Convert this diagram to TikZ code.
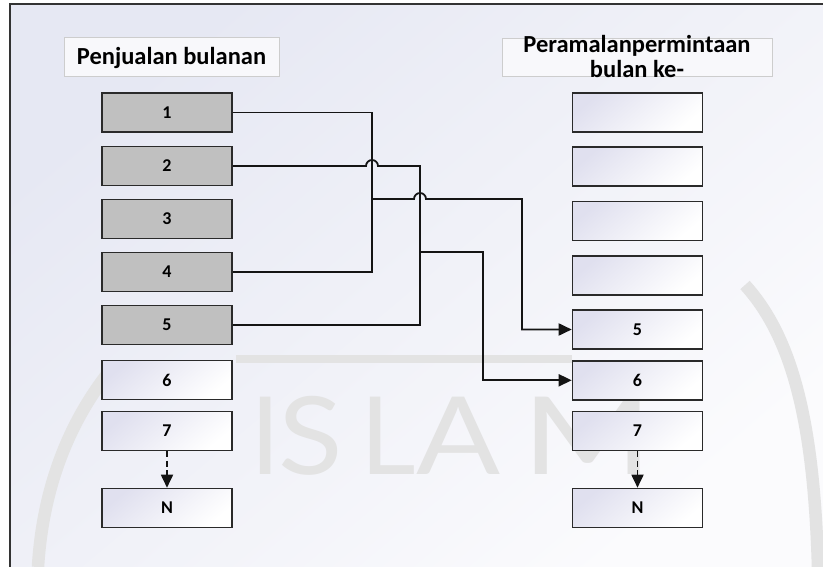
\documentclass[tikz,border=0pt]{standalone}
\usepackage{fontspec}
\usepackage{graphicx}
\setmainfont{Carlito}
\newfontfamily\wmfont{Lato}
\usetikzlibrary{arrows.meta,calc}

\definecolor{bgA}{HTML}{E6E8F3}
\definecolor{bgB}{HTML}{FBFBFD}
\definecolor{framec}{HTML}{333333}
\definecolor{boxline}{HTML}{2A2A2A}
\definecolor{grayfill}{HTML}{C0C0C0}
\definecolor{boxA}{HTML}{E0E0EF}
\definecolor{hdrline}{HTML}{CDCDCD}
\definecolor{hdrfill}{HTML}{F8F8FB}
\definecolor{linec}{HTML}{141414}
\definecolor{wmc}{HTML}{E3E3E3}

\tikzset{
  cellbase/.style={draw=boxline, line width=1.6pt, minimum width=130pt,
    minimum height=39pt, inner sep=0pt,
    font=\bfseries\fontsize{18}{20}\selectfont, text=black},
  cellgray/.style={cellbase, fill=grayfill},
  cellwhite/.style={cellbase, top color=boxA, bottom color=white, shading angle=40},
  hdrbox/.style={draw=hdrline, line width=1pt, fill=hdrfill, inner sep=0pt},
  hdrtext/.style={font=\bfseries\fontsize{24.5}{25}\selectfont, align=center, inner sep=0pt},
  conn/.style={line width=1.8pt, draw=linec, line join=miter},
  tip/.style={-{Triangle[length=13pt,width=12pt]}},
  dashconn/.style={conn, dash pattern=on 6pt off 3.5pt},
  wmletter/.style={text=wmc, font=\wmfont\fontsize{108}{110}\selectfont, inner sep=0pt, anchor=base},
  wmring/.style={draw=wmc, line width=12.5pt},
}

\begin{document}
\begin{tikzpicture}[x=1pt, y=-1pt]
\useasboundingbox (0,0) rectangle (823,567);
\fill[white] (0,0) rectangle (823,567);

% page background with soft diagonal gradient
\shade[top color=bgA, bottom color=bgB, shading angle=40] (9.5,4.5) rectangle (823,567);

% faint watermark
\draw[wmring] (112,368) .. controls (62,430) and (42,500) .. (38,567);
\draw[wmring] (745,285) .. controls (795,340) and (814,430) .. (818,567);
\draw[draw=wmc, line width=8pt] (236,359) -- (572,359);
\node[wmletter] (wmI) at (266,474) {I};
\node[wmletter] (wmS) at (311,474) {\scalebox{1.1}[1]{S}};
\node[wmletter] (wmL) at (388,474) {L};
\node[wmletter] (wmA) at (459,474) {\scalebox{1.15}[1]{A}};
\node[wmletter] (wmM) at (588,474) {\scalebox{1.3}[1]{M}};

% frame
\draw[framec, line width=2pt] (823,4.5) -- (9.5,4.5) -- (9.5,567);

% headers
\node[hdrbox, minimum width=215pt, minimum height=39pt] (hdrL) at (171.5,57.5) {};
\node[hdrtext] (hdrLtxt) at (hdrL.center) {Penjualan bulanan};
\node[hdrbox, minimum width=270pt, minimum height=38pt] (hdrR) at (637,58) {};
\node[hdrtext] (hdrRtxt) at (637,56.5) {Peramalanpermintaan\\bulan ke-};

% left column: monthly sales
\node[cellgray]  (L1) at (167,112.5) {1};
\node[cellgray]  (L2) at (167,166)   {2};
\node[cellgray]  (L3) at (167,219)   {3};
\node[cellgray]  (L4) at (167,272)   {4};
\node[cellgray]  (L5) at (167,325)   {5};
\node[cellwhite] (L6) at (167,380)   {6};
\node[cellwhite] (L7) at (167,431)   {7};
\node[cellwhite] (LN) at (167,508)   {N};

% right column: forecast for month
\node[cellwhite] (R1) at (637.5,112.5) {};
\node[cellwhite] (R2) at (637.5,166.8) {};
\node[cellwhite] (R3) at (637.5,221)   {};
\node[cellwhite] (R4) at (637.5,275.3) {};
\node[cellwhite] (R5) at (637.5,329.5) {5};
\node[cellwhite] (R6) at (637.5,380.3) {6};
\node[cellwhite] (R7) at (637.5,431)   {7};
\node[cellwhite] (RN) at (637.5,508)   {N};

% x positions of the vertical connector runs
\coordinate (bx1) at (372,0);
\coordinate (bx2) at (420,0);
\coordinate (bx3) at (522,0);
\coordinate (bx4) at (483,0);
\coordinate (t1) at (372,199);
\coordinate (t2) at (420,252.3);

% months 1 and 4 -> month 5
\draw[conn] (L1.east) -- (L1.east -| bx1) -- (L4.east -| bx1) -- (L4.east);
\draw[conn, tip] (t1) -- ($(t1 -| bx2)+(-6,0)$) arc[start angle=180, end angle=0, radius=6pt]
  -- (t1 -| bx3) -- (R5.west -| bx3) -- (R5.west);

% months 2 and 5 -> month 6
\draw[conn] (L2.east) -- ($(L2.east -| bx1)+(-6,0)$) arc[start angle=180, end angle=0, radius=6pt]
  -- (L2.east -| bx2) -- (L5.east -| bx2) -- (L5.east);
\draw[conn, tip] (t2) -- (t2 -| bx4) -- (R6.west -| bx4) -- (R6.west);

% continuation to month N
\draw[dashconn, tip] (L7.south) -- (LN.north);
\draw[dashconn, tip] (R7.south) -- (RN.north);
\end{tikzpicture}
\end{document}
